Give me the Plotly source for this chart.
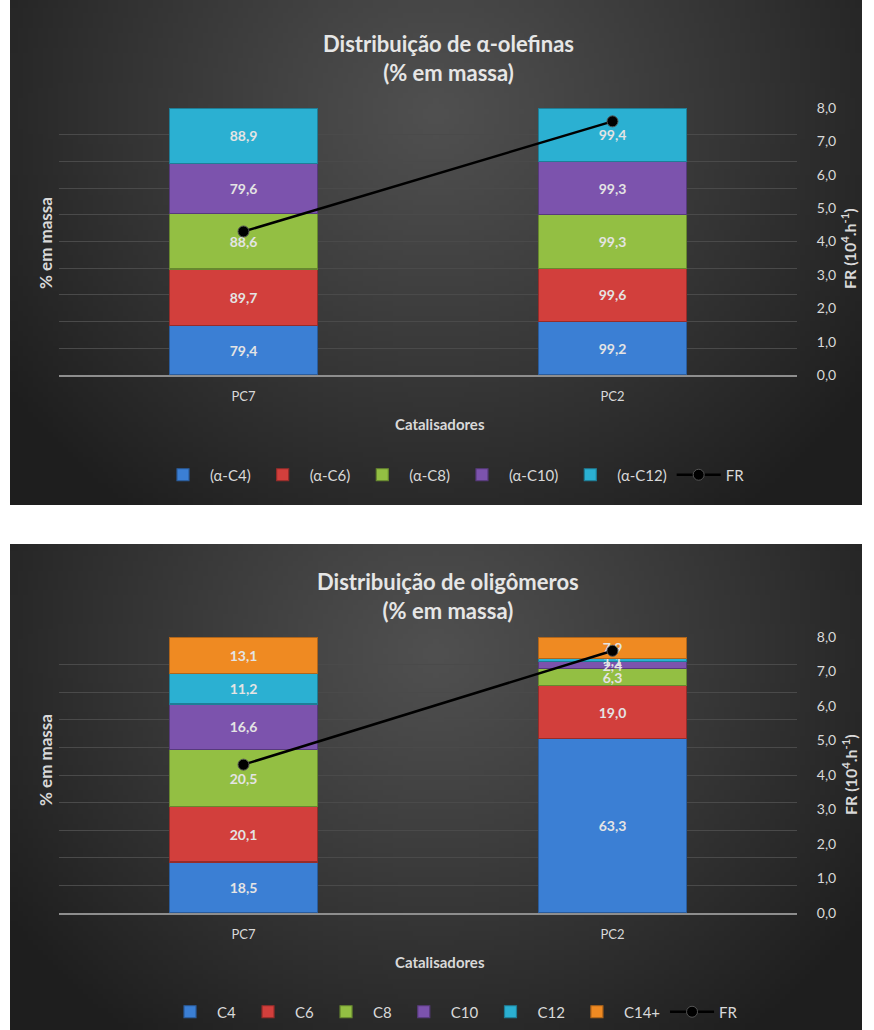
import base64
import struct
import zlib

import numpy as np
import plotly.graph_objects as go

# ---------------------------------------------------------------- data
catalysts = ["PC7", "PC2"]
fr_values = [4.3, 7.6]  # FR (10^4.h^-1)

alpha_names = ["(α-C4)", "(α-C6)", "(α-C8)", "(α-C10)", "(α-C12)"]
alpha_c4 = [79.4, 99.2]
alpha_c6 = [89.7, 99.6]
alpha_c8 = [88.6, 99.3]
alpha_c10 = [79.6, 99.3]
alpha_c12 = [88.9, 99.4]

olig_names = ["C4", "C6", "C8", "C10", "C12", "C14+"]
olig_c4 = [18.5, 63.3]
olig_c6 = [20.1, 19.0]
olig_c8 = [20.5, 6.3]
olig_c10 = [16.6, 2.4]
olig_c12 = [11.2, 1.1]
olig_c14 = [13.1, 7.9]

# ---------------------------------------------------------------- style
W, H = 874, 1030
FONT = "Lato"
TXT = "#d9d9d9"
GRID = "#4a4a4a"
colors = ["#3b7fd4", "#d23f3c", "#93bf43", "#7c53ad", "#2bb0d2", "#ef8a22"]
edges = ["#2a5c9c", "#962c2a", "#67882f", "#573a7c", "#1e7e97", "#b0651a"]


def fx(px):
    return px / W


def fy(px):
    return 1 - px / H


def png_uri(arr):
    """Encode an HxWx3 uint8 array as a PNG data URI."""
    h, w, _ = arr.shape
    raw = b"".join(b"\x00" + arr[i].tobytes() for i in range(h))

    def chunk(tag, data):
        body = tag + data
        return struct.pack(">I", len(data)) + body + struct.pack(">I", zlib.crc32(body) & 0xFFFFFFFF)

    png = (b"\x89PNG\r\n\x1a\n"
           + chunk(b"IHDR", struct.pack(">IIBBBBB", w, h, 8, 2, 0, 0, 0))
           + chunk(b"IDAT", zlib.compress(raw, 9))
           + chunk(b"IEND", b""))
    return "data:image/png;base64," + base64.b64encode(png).decode()


def card_gradient(w=170, h=100):
    u = np.linspace(0, 1, w)[None, :]
    v = np.linspace(0, 1, h)[:, None]
    d = np.sqrt(((u - 0.5) / 0.62) ** 2 + ((v - 0.22) / 1.0) ** 2)
    d = np.clip(d, 0, 1) ** 1.1
    c = 80 + (30 - 80) * d
    arr = np.repeat(c[:, :, None], 3, axis=2)
    return arr.astype(np.uint8)


def fmt(v):
    return f"{v:.1f}".replace(".", ",")


bg = png_uri(card_gradient())

fig = go.Figure()

# ---------------------------------------------------------------- top chart
alpha_series = [alpha_c4, alpha_c6, alpha_c8, alpha_c10, alpha_c12]
for name, vals, col, edge in zip(alpha_names, alpha_series, colors, edges):
    fig.add_trace(go.Bar(
        x=catalysts, y=vals, name=name, xaxis="x", yaxis="y",
        marker=dict(color=col, line=dict(color=edge, width=1.2)),
        text=[fmt(v) for v in vals], texttemplate="%{text}",
        textposition="inside", insidetextanchor="middle", constraintext="none",
        textfont=dict(family=FONT, size=14, color="#e4e4e4", weight="bold"),
        legend="legend", hoverinfo="skip",
    ))
fig.add_trace(go.Scatter(
    x=catalysts, y=fr_values, name="FR", xaxis="x", yaxis="y2",
    mode="lines+markers", line=dict(color="black", width=2.5),
    marker=dict(size=11, color="black", line=dict(color="#555", width=1)),
    legend="legend",
))

# ---------------------------------------------------------------- bottom chart
olig_series = [olig_c4, olig_c6, olig_c8, olig_c10, olig_c12, olig_c14]
for name, vals, col, edge in zip(olig_names, olig_series, colors, edges):
    fig.add_trace(go.Bar(
        x=catalysts, y=vals, name=name, xaxis="x2", yaxis="y3",
        marker=dict(color=col, line=dict(color=edge, width=1.2)),
        text=[fmt(v) for v in vals], texttemplate="%{text}",
        textposition="inside", insidetextanchor="middle", constraintext="none",
        textfont=dict(family=FONT, size=14, color="#e4e4e4", weight="bold"),
        legend="legend2", hoverinfo="skip",
    ))
fig.add_trace(go.Scatter(
    x=catalysts, y=fr_values, name="FR", xaxis="x2", yaxis="y4",
    mode="lines+markers", line=dict(color="black", width=2.5),
    marker=dict(size=11, color="black", line=dict(color="#555", width=1)),
    legend="legend2",
))

# ---------------------------------------------------------------- axes
x_dom = [fx(59), fx(797)]
top_dom = [fy(375), fy(108)]
bot_dom = [fy(913), fy(637)]


def xaxis(anchor):
    return dict(domain=x_dom, anchor=anchor, showline=True, linecolor="#8e8e8e", linewidth=2,
                showgrid=False, zeroline=False, ticks="outside", ticklen=8,
                tickcolor="rgba(0,0,0,0)", tickfont=dict(family=FONT, size=13, color=TXT),
                fixedrange=True)


def yaxis_pct(dom, anchor):
    return dict(domain=dom, anchor=anchor, range=[0, 100], dtick=10, showticklabels=False,
                showgrid=True, gridcolor=GRID, gridwidth=1, zeroline=False, fixedrange=True)


def yaxis_fr(over, anchor):
    return dict(overlaying=over, anchor=anchor, side="right", range=[0, 8], dtick=1,
                tickformat=".1f", showgrid=False, zeroline=False, ticks="outside", ticklen=16,
                tickcolor="rgba(0,0,0,0)", tickfont=dict(family=FONT, size=14, color=TXT),
                fixedrange=True)


legend_common = dict(orientation="h", xanchor="center", x=fx(453), yanchor="middle",
                     font=dict(family=FONT, size=15, color=TXT), bgcolor="rgba(0,0,0,0)",
                     traceorder="normal", itemwidth=44)

card_w = 852

fig.update_layout(
    width=W, height=H, margin=dict(l=0, r=0, t=0, b=0, autoexpand=False),
    paper_bgcolor="white", plot_bgcolor="rgba(0,0,0,0)",
    separators=",.", barmode="stack", barnorm="percent", bargap=0.6,
    showlegend=True,
    xaxis=xaxis("y"), yaxis=yaxis_pct(top_dom, "x"), yaxis2=yaxis_fr("y", "x"),
    xaxis2=xaxis("y3"), yaxis3=yaxis_pct(bot_dom, "x2"), yaxis4=yaxis_fr("y3", "x2"),
    legend=dict(legend_common, y=fy(475)),
    legend2=dict(legend_common, y=fy(1012)),
    images=[
        dict(source=bg, xref="paper", yref="paper", x=fx(10), y=fy(0), sizex=fx(card_w),
             sizey=505 / H, sizing="stretch", xanchor="left", yanchor="top", layer="below"),
        dict(source=bg, xref="paper", yref="paper", x=fx(10), y=fy(544), sizex=fx(card_w),
             sizey=486 / H, sizing="stretch", xanchor="left", yanchor="top", layer="below"),
    ],
)


def label(text, x, y, size=14, angle=0, bold=True, color=TXT):
    fig.add_annotation(text=text, x=fx(x), y=fy(y), xref="paper", yref="paper",
                       showarrow=False, textangle=angle, xanchor="center", yanchor="middle",
                       font=dict(family=FONT, size=size, color=color,
                                 weight="bold" if bold else "normal"))


for y_title, y_cat, y_left, y_right, title in [
    (58, 424, 243, 249, "Distribuição de α-olefinas<br>(% em massa)"),
    (596, 962, 760, 775, "Distribuição de oligômeros<br>(% em massa)"),
]:
    label(title, 448, y_title, size=22, color="#e6e6e6")
    label("% em massa", 45, y_left, size=17, angle=-90)
    label("FR (10<sup>4</sup>.h<sup>-1</sup>)", 849, y_right, size=16, angle=-90)
    label("Catalisadores", 440, y_cat, size=15)

fig.write_html("out.html")
